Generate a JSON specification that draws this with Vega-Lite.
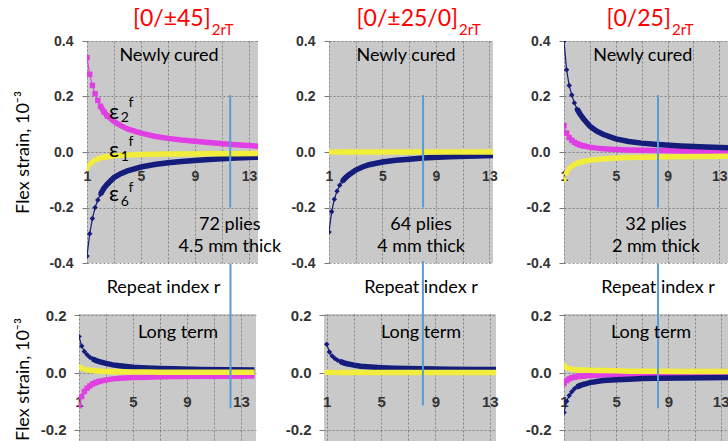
{
"$schema":"https://vega.github.io/schema/vega-lite/v6.json",
"padding":{"left":13,"top":8,"right":0,"bottom":0},
"background":"white",
"config":{
 "view":{"fill":"#c9c9c9","stroke":null},
 "axis":{"domain":false,"tickColor":"#777777","gridColor":"#555555","gridDash":[2,2],"gridOpacity":0.6,"labelFont":"Liberation Sans","labelFontWeight":"bold","labelFontSize":14,"labelColor":"#333333","titleFont":"Lato","titleFontSize":18,"titleFontWeight":"normal","titleColor":"#000000"},
 "text":{"font":"Lato"}
},
"datasets":{
"curves":[
{"p":"A","r":1,"mg":0.34,"yl":-0.06,"nv":-0.375},
{"p":"A","r":1.2,"mg":0.28,"yl":-0.045,"nv":-0.295},
{"p":"A","r":1.4,"mg":0.24,"yl":-0.036,"nv":-0.24},
{"p":"A","r":1.6,"mg":0.21,"yl":-0.03,"nv":-0.2},
{"p":"A","r":1.8,"mg":0.186,"yl":-0.025,"nv":-0.173},
{"p":"A","r":2,"mg":0.165,"yl":-0.022,"nv":-0.152},
{"p":"A","r":2.25,"mg":0.145,"yl":-0.019,"nv":-0.131},
{"p":"A","r":2.5,"mg":0.13,"yl":-0.017,"nv":-0.116},
{"p":"A","r":3,"mg":0.11,"yl":-0.014,"nv":-0.092},
{"p":"A","r":3.5,"mg":0.095,"yl":-0.012,"nv":-0.078},
{"p":"A","r":4,"mg":0.083,"yl":-0.011,"nv":-0.068},
{"p":"A","r":5,"mg":0.068,"yl":-0.009,"nv":-0.054},
{"p":"A","r":6,"mg":0.057,"yl":-0.008,"nv":-0.045},
{"p":"A","r":7,"mg":0.049,"yl":-0.007,"nv":-0.039},
{"p":"A","r":8,"mg":0.043,"yl":-0.007,"nv":-0.034},
{"p":"A","r":10,"mg":0.034,"yl":-0.006,"nv":-0.027},
{"p":"A","r":12,"mg":0.026,"yl":-0.006,"nv":-0.022},
{"p":"A","r":14,"mg":0.02,"yl":-0.005,"nv":-0.018},
{"p":"B","r":1,"yl":0,"nv":-0.288},
{"p":"B","r":1.2,"yl":0,"nv":-0.215},
{"p":"B","r":1.4,"yl":0,"nv":-0.17},
{"p":"B","r":1.6,"yl":0,"nv":-0.141},
{"p":"B","r":1.8,"yl":0,"nv":-0.12},
{"p":"B","r":2,"yl":0,"nv":-0.105},
{"p":"B","r":2.25,"yl":0,"nv":-0.092},
{"p":"B","r":2.5,"yl":0,"nv":-0.082},
{"p":"B","r":3,"yl":0,"nv":-0.065},
{"p":"B","r":3.5,"yl":0,"nv":-0.054},
{"p":"B","r":4,"yl":0,"nv":-0.046},
{"p":"B","r":5,"yl":0,"nv":-0.036},
{"p":"B","r":6,"yl":0,"nv":-0.03},
{"p":"B","r":7,"yl":0,"nv":-0.026},
{"p":"B","r":8,"yl":0,"nv":-0.022},
{"p":"B","r":10,"yl":0,"nv":-0.017},
{"p":"B","r":12,"yl":0,"nv":-0.014},
{"p":"B","r":14,"yl":0,"nv":-0.012},
{"p":"C","r":1,"mg":0.095,"yl":-0.1,"nv":0.4},
{"p":"C","r":1.2,"mg":0.068,"yl":-0.075,"nv":0.296},
{"p":"C","r":1.4,"mg":0.052,"yl":-0.06,"nv":0.24},
{"p":"C","r":1.6,"mg":0.042,"yl":-0.051,"nv":0.205},
{"p":"C","r":1.8,"mg":0.035,"yl":-0.045,"nv":0.177},
{"p":"C","r":2,"mg":0.03,"yl":-0.041,"nv":0.155},
{"p":"C","r":2.25,"mg":0.025,"yl":-0.037,"nv":0.136},
{"p":"C","r":2.5,"mg":0.022,"yl":-0.034,"nv":0.12},
{"p":"C","r":3,"mg":0.017,"yl":-0.03,"nv":0.093},
{"p":"C","r":3.5,"mg":0.014,"yl":-0.027,"nv":0.076},
{"p":"C","r":4,"mg":0.012,"yl":-0.025,"nv":0.064},
{"p":"C","r":5,"mg":0.009,"yl":-0.022,"nv":0.047},
{"p":"C","r":6,"mg":0.007,"yl":-0.02,"nv":0.038},
{"p":"C","r":7,"mg":0.006,"yl":-0.019,"nv":0.032},
{"p":"C","r":8,"mg":0.005,"yl":-0.018,"nv":0.028},
{"p":"C","r":10,"mg":0.004,"yl":-0.017,"nv":0.022},
{"p":"C","r":12,"mg":0.003,"yl":-0.016,"nv":0.018},
{"p":"C","r":14,"mg":0.003,"yl":-0.015,"nv":0.015},
{"p":"D","r":1,"mg":-0.116,"yl":0.02,"nv":0.126},
{"p":"D","r":1.2,"mg":-0.084,"yl":0.015,"nv":0.093},
{"p":"D","r":1.4,"mg":-0.066,"yl":0.012,"nv":0.074},
{"p":"D","r":1.6,"mg":-0.055,"yl":0.01,"nv":0.062},
{"p":"D","r":1.8,"mg":-0.047,"yl":0.008,"nv":0.054},
{"p":"D","r":2,"mg":-0.04,"yl":0.007,"nv":0.048},
{"p":"D","r":2.25,"mg":-0.035,"yl":0.006,"nv":0.042},
{"p":"D","r":2.5,"mg":-0.031,"yl":0.005,"nv":0.038},
{"p":"D","r":3,"mg":-0.026,"yl":0.004,"nv":0.032},
{"p":"D","r":3.5,"mg":-0.022,"yl":0.003,"nv":0.027},
{"p":"D","r":4,"mg":-0.02,"yl":0.003,"nv":0.024},
{"p":"D","r":5,"mg":-0.017,"yl":0.002,"nv":0.019},
{"p":"D","r":6,"mg":-0.016,"yl":0.002,"nv":0.016},
{"p":"D","r":7,"mg":-0.015,"yl":0.001,"nv":0.014},
{"p":"D","r":8,"mg":-0.014,"yl":0.001,"nv":0.013},
{"p":"D","r":10,"mg":-0.013,"yl":0.001,"nv":0.011},
{"p":"D","r":12,"mg":-0.013,"yl":0.001,"nv":0.01},
{"p":"D","r":14,"mg":-0.012,"yl":0.001,"nv":0.009},
{"p":"E","r":1,"yl":0,"nv":0.099},
{"p":"E","r":1.2,"yl":0,"nv":0.072},
{"p":"E","r":1.4,"yl":0,"nv":0.058},
{"p":"E","r":1.6,"yl":0,"nv":0.049},
{"p":"E","r":1.8,"yl":0,"nv":0.043},
{"p":"E","r":2,"yl":0,"nv":0.039},
{"p":"E","r":2.25,"yl":0,"nv":0.034},
{"p":"E","r":2.5,"yl":0,"nv":0.031},
{"p":"E","r":3,"yl":0,"nv":0.026},
{"p":"E","r":3.5,"yl":0,"nv":0.022},
{"p":"E","r":4,"yl":0,"nv":0.02},
{"p":"E","r":5,"yl":0,"nv":0.017},
{"p":"E","r":6,"yl":0,"nv":0.015},
{"p":"E","r":7,"yl":0,"nv":0.014},
{"p":"E","r":8,"yl":0,"nv":0.013},
{"p":"E","r":10,"yl":0,"nv":0.012},
{"p":"E","r":12,"yl":0,"nv":0.011},
{"p":"E","r":14,"yl":0,"nv":0.011},
{"p":"F","r":1,"mg":-0.038,"yl":0.025,"nv":-0.14},
{"p":"F","r":1.2,"mg":-0.028,"yl":0.018,"nv":-0.1},
{"p":"F","r":1.4,"mg":-0.022,"yl":0.014,"nv":-0.08},
{"p":"F","r":1.6,"mg":-0.018,"yl":0.012,"nv":-0.067},
{"p":"F","r":1.8,"mg":-0.016,"yl":0.011,"nv":-0.057},
{"p":"F","r":2,"mg":-0.014,"yl":0.01,"nv":-0.05},
{"p":"F","r":2.25,"mg":-0.013,"yl":0.009,"nv":-0.045},
{"p":"F","r":2.5,"mg":-0.012,"yl":0.009,"nv":-0.041},
{"p":"F","r":3,"mg":-0.01,"yl":0.008,"nv":-0.035},
{"p":"F","r":3.5,"mg":-0.009,"yl":0.007,"nv":-0.031},
{"p":"F","r":4,"mg":-0.008,"yl":0.007,"nv":-0.028},
{"p":"F","r":5,"mg":-0.007,"yl":0.006,"nv":-0.025},
{"p":"F","r":6,"mg":-0.006,"yl":0.005,"nv":-0.023},
{"p":"F","r":7,"mg":-0.006,"yl":0.005,"nv":-0.021},
{"p":"F","r":8,"mg":-0.005,"yl":0.005,"nv":-0.02},
{"p":"F","r":10,"mg":-0.005,"yl":0.004,"nv":-0.019},
{"p":"F","r":12,"mg":-0.005,"yl":0.004,"nv":-0.018},
{"p":"F","r":14,"mg":-0.004,"yl":0.004,"nv":-0.017}
],
"rules":[
{"p":"A","r":11.61,"v":0.205,"v2":-0.2},
{"p":"B","r":8.04,"v":0.205,"v2":-0.2},
{"p":"C","r":8.26,"v":0.205,"v2":-0.2},
{"p":"D","r":12.23,"v":0.382,"v2":-0.125},
{"p":"E","r":8.08,"v":0.39,"v2":-0.115},
{"p":"F","r":8.2,"v":0.382,"v2":-0.125}
],
"notes":[
{"p":"A","k":"ttl","t":"[0/±45]","r":10.17,"v":0.479},
{"p":"A","k":"sub","t":"2rT","r":10.25,"v":0.44},
{"p":"A","k":"note","t":"Newly cured","r":7.07,"v":0.346},
{"p":"A","k":"note","t":"72 plies","r":11.58,"v":-0.263},
{"p":"A","k":"note","t":"4.5 mm thick","r":11.58,"v":-0.342},
{"p":"A","k":"eps","t":"ε","r":3.0,"v":0.144},
{"p":"A","k":"es","t":"2","r":3.81,"v":0.123},
{"p":"A","k":"es","t":"f","r":4.25,"v":0.177},
{"p":"A","k":"eps","t":"ε","r":3.0,"v":0.007},
{"p":"A","k":"es","t":"1","r":3.81,"v":-0.018},
{"p":"A","k":"es","t":"f","r":4.25,"v":0.036},
{"p":"A","k":"eps","t":"ε","r":3.0,"v":-0.151},
{"p":"A","k":"es","t":"6","r":3.81,"v":-0.18},
{"p":"A","k":"es","t":"f","r":4.25,"v":-0.13},
{"p":"B","k":"ttl","t":"[0/±25/0]","r":10.66,"v":0.479},
{"p":"B","k":"sub","t":"2rT","r":10.73,"v":0.44},
{"p":"B","k":"note","t":"Newly cured","r":6.76,"v":0.346},
{"p":"B","k":"note","t":"64 plies","r":7.89,"v":-0.263},
{"p":"B","k":"note","t":"4 mm thick","r":7.89,"v":-0.342},
{"p":"C","k":"ttl","t":"[0/25]","r":9.26,"v":0.479},
{"p":"C","k":"sub","t":"2rT","r":9.34,"v":0.44},
{"p":"C","k":"note","t":"Newly cured","r":7.08,"v":0.346},
{"p":"C","k":"note","t":"32 plies","r":8.1,"v":-0.263},
{"p":"C","k":"note","t":"2 mm thick","r":8.1,"v":-0.342},
{"p":"D","k":"note","t":"Repeat index r","r":7.26,"v":0.295},
{"p":"D","k":"note","t":"Long term","r":8.34,"v":0.138},
{"p":"E","k":"note","t":"Repeat index r","r":7.94,"v":0.295},
{"p":"E","k":"note","t":"Long term","r":7.94,"v":0.138},
{"p":"F","k":"note","t":"Repeat index r","r":8.2,"v":0.295},
{"p":"F","k":"note","t":"Long term","r":7.66,"v":0.138}
]
},
"vconcat":[
{"bounds":"flush","spacing":71,"hconcat":[
  {"width":171,"height":222,
   "encoding":{
    "x":{"field":"r","type":"quantitative","scale":{"domain":[1,13.67],"nice":false,"zero":false},"axis":{"values":[1,3,5,7,9,11,13],"labelExpr":"datum.value % 4 == 1 ? datum.label : ''","offset":-111,"labelPadding":17,"ticks":false,"tickSize":0,"title":null,"grid":true,"labelFlush":false,"labelOverlap":false}},
    "y":{"field":"v","type":"quantitative","scale":{"domain":[-0.4,0.4],"nice":false,"zero":false},"axis":{"values":[-0.4,-0.2,0,0.2,0.4],"labelExpr":"datum.value < 0 ? '-' + format(-datum.value, '.1f') : format(datum.value, '.1f')","title":"Flex strain, 10⁻³","titleX":-55,"tickSize":5,"labelPadding":9,"grid":true}}
   },
   "layer":[
    {"data":{"name":"curves"},"transform":[{"filter":"datum.p=='A'"},{"fold":["mg","nv","yl"],"as":["s","v"]},{"filter":"isValid(datum.v)"}],"mark":{"type":"line","strokeWidth":1.2,"clip":true},"encoding":{"color":{"field":"s","type":"nominal","scale":{"domain":["mg","nv","yl"],"range":["#e03fe3","#141c7c","#f2ec3a"]},"legend":null}}},
    {"data":{"name":"curves"},"transform":[{"filter":"datum.p=='A' && datum.r >= 2"},{"fold":["mg","nv","yl"],"as":["s","v"]},{"filter":"isValid(datum.v)"}],"mark":{"type":"line","strokeWidth":5.5,"strokeCap":"butt","clip":true},"encoding":{"color":{"field":"s","type":"nominal","legend":null}}},
    {"data":{"name":"curves"},"transform":[{"filter":"datum.p=='A' && datum.r <= 2.5"},{"fold":["mg","nv","yl"],"as":["s","v"]},{"filter":"isValid(datum.v)"}],"mark":{"type":"point","filled":true,"opacity":1,"size":30,"clip":true},"encoding":{"color":{"field":"s","type":"nominal","legend":null},"shape":{"field":"s","type":"nominal","scale":{"domain":["mg","nv","yl"],"range":["square","diamond","circle"]},"legend":null}}},
    {"data":{"name":"rules"},"transform":[{"filter":"datum.p=='A'"}],"mark":{"type":"rule","color":"#5b9bd5","strokeWidth":2},"encoding":{"y2":{"field":"v2"}}},
    {"data":{"name":"notes"},"transform":[{"filter":"datum.p=='A' && datum.k=='ttl'"}],"mark":{"type":"text","fontSize":23,"color":"#ff0000","align":"right","baseline":"middle"},"encoding":{"text":{"field":"t"}}},
    {"data":{"name":"notes"},"transform":[{"filter":"datum.p=='A' && datum.k=='sub'"}],"mark":{"type":"text","fontSize":15,"color":"#ff0000","align":"left","baseline":"middle"},"encoding":{"text":{"field":"t"}}},
    {"data":{"name":"notes"},"transform":[{"filter":"datum.p=='A' && datum.k=='note'"}],"mark":{"type":"text","fontSize":18,"color":"#000000","baseline":"middle"},"encoding":{"text":{"field":"t"}}},
    {"data":{"name":"notes"},"transform":[{"filter":"datum.p=='A' && datum.k=='eps'"}],"mark":{"type":"text","fontSize":22,"color":"#000000","baseline":"middle"},"encoding":{"text":{"field":"t"}}},
    {"data":{"name":"notes"},"transform":[{"filter":"datum.p=='A' && datum.k=='es'"}],"mark":{"type":"text","fontSize":14,"color":"#000000","baseline":"middle"},"encoding":{"text":{"field":"t"}}}
   ]},
  {"width":164,"height":222,
   "encoding":{
    "x":{"field":"r","type":"quantitative","scale":{"domain":[1,13.27],"nice":false,"zero":false},"axis":{"values":[1,3,5,7,9,11,13],"labelExpr":"datum.value % 4 == 1 ? datum.label : ''","offset":-111,"labelPadding":17,"ticks":false,"tickSize":0,"title":null,"grid":true,"labelFlush":false,"labelOverlap":false}},
    "y":{"field":"v","type":"quantitative","scale":{"domain":[-0.4,0.4],"nice":false,"zero":false},"axis":{"values":[-0.4,-0.2,0,0.2,0.4],"labelExpr":"datum.value < 0 ? '-' + format(-datum.value, '.1f') : format(datum.value, '.1f')","title":null,"tickSize":5,"labelPadding":9,"grid":true}}
   },
   "layer":[
    {"data":{"name":"curves"},"transform":[{"filter":"datum.p=='B'"},{"fold":["mg","nv","yl"],"as":["s","v"]},{"filter":"isValid(datum.v)"}],"mark":{"type":"line","strokeWidth":1.2,"clip":true},"encoding":{"color":{"field":"s","type":"nominal","scale":{"domain":["mg","nv","yl"],"range":["#e03fe3","#141c7c","#f2ec3a"]},"legend":null}}},
    {"data":{"name":"curves"},"transform":[{"filter":"datum.p=='B' && datum.r >= 2"},{"fold":["mg","nv","yl"],"as":["s","v"]},{"filter":"isValid(datum.v)"}],"mark":{"type":"line","strokeWidth":5.5,"strokeCap":"butt","clip":true},"encoding":{"color":{"field":"s","type":"nominal","legend":null}}},
    {"data":{"name":"curves"},"transform":[{"filter":"datum.p=='B' && datum.r <= 2.5"},{"fold":["mg","nv","yl"],"as":["s","v"]},{"filter":"isValid(datum.v)"}],"mark":{"type":"point","filled":true,"opacity":1,"size":30,"clip":true},"encoding":{"color":{"field":"s","type":"nominal","legend":null},"shape":{"field":"s","type":"nominal","scale":{"domain":["mg","nv","yl"],"range":["square","diamond","circle"]},"legend":null}}},
    {"data":{"name":"rules"},"transform":[{"filter":"datum.p=='B'"}],"mark":{"type":"rule","color":"#5b9bd5","strokeWidth":2},"encoding":{"y2":{"field":"v2"}}},
    {"data":{"name":"notes"},"transform":[{"filter":"datum.p=='B' && datum.k=='ttl'"}],"mark":{"type":"text","fontSize":23,"color":"#ff0000","align":"right","baseline":"middle"},"encoding":{"text":{"field":"t"}}},
    {"data":{"name":"notes"},"transform":[{"filter":"datum.p=='B' && datum.k=='sub'"}],"mark":{"type":"text","fontSize":15,"color":"#ff0000","align":"left","baseline":"middle"},"encoding":{"text":{"field":"t"}}},
    {"data":{"name":"notes"},"transform":[{"filter":"datum.p=='B' && datum.k=='note'"}],"mark":{"type":"text","fontSize":18,"color":"#000000","baseline":"middle"},"encoding":{"text":{"field":"t"}}}
   ]},
 {"width":167,"height":222,
   "encoding":{
    "x":{"field":"r","type":"quantitative","scale":{"domain":[1,13.9],"nice":false,"zero":false},"axis":{"values":[1,3,5,7,9,11,13],"labelExpr":"datum.value % 4 == 1 ? datum.label : ''","offset":-111,"labelPadding":17,"ticks":false,"tickSize":0,"title":null,"grid":true,"labelFlush":false,"labelOverlap":false}},
    "y":{"field":"v","type":"quantitative","scale":{"domain":[-0.4,0.4],"nice":false,"zero":false},"axis":{"values":[-0.4,-0.2,0,0.2,0.4],"labelExpr":"datum.value < 0 ? '-' + format(-datum.value, '.1f') : format(datum.value, '.1f')","title":null,"tickSize":5,"labelPadding":9,"grid":true}}
   },
   "layer":[
    {"data":{"name":"curves"},"transform":[{"filter":"datum.p=='C'"},{"fold":["mg","nv","yl"],"as":["s","v"]},{"filter":"isValid(datum.v)"}],"mark":{"type":"line","strokeWidth":1.2,"clip":true},"encoding":{"color":{"field":"s","type":"nominal","scale":{"domain":["mg","nv","yl"],"range":["#e03fe3","#141c7c","#f2ec3a"]},"legend":null}}},
    {"data":{"name":"curves"},"transform":[{"filter":"datum.p=='C' && datum.r >= 2"},{"fold":["mg","nv","yl"],"as":["s","v"]},{"filter":"isValid(datum.v)"}],"mark":{"type":"line","strokeWidth":5.5,"strokeCap":"butt","clip":true},"encoding":{"color":{"field":"s","type":"nominal","legend":null}}},
    {"data":{"name":"curves"},"transform":[{"filter":"datum.p=='C' && datum.r <= 2.5"},{"fold":["mg","nv","yl"],"as":["s","v"]},{"filter":"isValid(datum.v)"}],"mark":{"type":"point","filled":true,"opacity":1,"size":30,"clip":true},"encoding":{"color":{"field":"s","type":"nominal","legend":null},"shape":{"field":"s","type":"nominal","scale":{"domain":["mg","nv","yl"],"range":["square","diamond","circle"]},"legend":null}}},
    {"data":{"name":"rules"},"transform":[{"filter":"datum.p=='C'"}],"mark":{"type":"rule","color":"#5b9bd5","strokeWidth":2},"encoding":{"y2":{"field":"v2"}}},
    {"data":{"name":"notes"},"transform":[{"filter":"datum.p=='C' && datum.k=='ttl'"}],"mark":{"type":"text","fontSize":23,"color":"#ff0000","align":"right","baseline":"middle"},"encoding":{"text":{"field":"t"}}},
    {"data":{"name":"notes"},"transform":[{"filter":"datum.p=='C' && datum.k=='sub'"}],"mark":{"type":"text","fontSize":15,"color":"#ff0000","align":"left","baseline":"middle"},"encoding":{"text":{"field":"t"}}},
    {"data":{"name":"notes"},"transform":[{"filter":"datum.p=='C' && datum.k=='note'"}],"mark":{"type":"text","fontSize":18,"color":"#000000","baseline":"middle"},"encoding":{"text":{"field":"t"}}}
   ]}
]},
{"bounds":"flush","spacing":68,"hconcat":[
  {"width":177,"height":130,
   "encoding":{
    "x":{"field":"r","type":"quantitative","scale":{"domain":[1,14.12],"nice":false,"zero":false},"axis":{"values":[1,3,5,7,9,11,13],"labelExpr":"datum.value % 4 == 1 ? datum.label : ''","offset":-71.4,"labelPadding":22,"ticks":false,"tickSize":0,"title":null,"grid":true,"labelFlush":false,"labelOverlap":false,"labelFontSize":15}},
    "y":{"field":"v","type":"quantitative","scale":{"domain":[-0.25,0.205],"nice":false,"zero":false},"axis":{"values":[-0.2,0,0.2],"labelExpr":"datum.value < 0 ? '-' + format(-datum.value, '.1f') : format(datum.value, '.1f')","title":"Flex strain, 10⁻³","titleX":-47,"tickSize":5,"labelPadding":8,"grid":true,"labelFontSize":15}}
   },
   "layer":[
    {"data":{"name":"curves"},"transform":[{"filter":"datum.p=='D'"},{"fold":["mg","nv","yl"],"as":["s","v"]},{"filter":"isValid(datum.v)"}],"mark":{"type":"line","strokeWidth":1.2,"clip":true},"encoding":{"color":{"field":"s","type":"nominal","scale":{"domain":["mg","nv","yl"],"range":["#e03fe3","#141c7c","#f2ec3a"]},"legend":null}}},
    {"data":{"name":"curves"},"transform":[{"filter":"datum.p=='D' && datum.r >= 2"},{"fold":["mg","nv","yl"],"as":["s","v"]},{"filter":"isValid(datum.v)"}],"mark":{"type":"line","strokeWidth":5.5,"strokeCap":"butt","clip":true},"encoding":{"color":{"field":"s","type":"nominal","legend":null}}},
    {"data":{"name":"curves"},"transform":[{"filter":"datum.p=='D' && datum.r <= 2.5"},{"fold":["mg","nv","yl"],"as":["s","v"]},{"filter":"isValid(datum.v)"}],"mark":{"type":"point","filled":true,"opacity":1,"size":30,"clip":true},"encoding":{"color":{"field":"s","type":"nominal","legend":null},"shape":{"field":"s","type":"nominal","scale":{"domain":["mg","nv","yl"],"range":["square","diamond","circle"]},"legend":null}}},
    {"data":{"name":"rules"},"transform":[{"filter":"datum.p=='D'"}],"mark":{"type":"rule","color":"#5b9bd5","strokeWidth":2},"encoding":{"y2":{"field":"v2"}}},
    {"data":{"name":"notes"},"transform":[{"filter":"datum.p=='D' && datum.k=='note'"}],"mark":{"type":"text","fontSize":18,"color":"#000000","baseline":"middle"},"encoding":{"text":{"field":"t"}}}
   ]},
  {"width":172,"height":130,
   "encoding":{
    "x":{"field":"r","type":"quantitative","scale":{"domain":[0.8,13.46],"nice":false,"zero":false},"axis":{"values":[1,3,5,7,9,11,13],"labelExpr":"datum.value % 4 == 1 ? datum.label : ''","offset":-71.4,"labelPadding":22,"ticks":false,"tickSize":0,"title":null,"grid":true,"labelFlush":false,"labelOverlap":false,"labelFontSize":15}},
    "y":{"field":"v","type":"quantitative","scale":{"domain":[-0.25,0.205],"nice":false,"zero":false},"axis":{"values":[-0.2,0,0.2],"labelExpr":"datum.value < 0 ? '-' + format(-datum.value, '.1f') : format(datum.value, '.1f')","title":null,"tickSize":5,"labelPadding":8,"grid":true,"labelFontSize":15}}
   },
   "layer":[
    {"data":{"name":"curves"},"transform":[{"filter":"datum.p=='E'"},{"fold":["mg","nv","yl"],"as":["s","v"]},{"filter":"isValid(datum.v)"}],"mark":{"type":"line","strokeWidth":1.2,"clip":true},"encoding":{"color":{"field":"s","type":"nominal","scale":{"domain":["mg","nv","yl"],"range":["#e03fe3","#141c7c","#f2ec3a"]},"legend":null}}},
    {"data":{"name":"curves"},"transform":[{"filter":"datum.p=='E' && datum.r >= 2"},{"fold":["mg","nv","yl"],"as":["s","v"]},{"filter":"isValid(datum.v)"}],"mark":{"type":"line","strokeWidth":5.5,"strokeCap":"butt","clip":true},"encoding":{"color":{"field":"s","type":"nominal","legend":null}}},
    {"data":{"name":"curves"},"transform":[{"filter":"datum.p=='E' && datum.r <= 2.5"},{"fold":["mg","nv","yl"],"as":["s","v"]},{"filter":"isValid(datum.v)"}],"mark":{"type":"point","filled":true,"opacity":1,"size":30,"clip":true},"encoding":{"color":{"field":"s","type":"nominal","legend":null},"shape":{"field":"s","type":"nominal","scale":{"domain":["mg","nv","yl"],"range":["square","diamond","circle"]},"legend":null}}},
    {"data":{"name":"rules"},"transform":[{"filter":"datum.p=='E'"}],"mark":{"type":"rule","color":"#5b9bd5","strokeWidth":2},"encoding":{"y2":{"field":"v2"}}},
    {"data":{"name":"notes"},"transform":[{"filter":"datum.p=='E' && datum.k=='note'"}],"mark":{"type":"text","fontSize":18,"color":"#000000","baseline":"middle"},"encoding":{"text":{"field":"t"}}}
   ]},
 {"width":175,"height":130,
   "encoding":{
    "x":{"field":"r","type":"quantitative","scale":{"domain":[1,14.4],"nice":false,"zero":false},"axis":{"values":[1,3,5,7,9,11,13],"labelExpr":"datum.value % 4 == 1 ? datum.label : ''","offset":-71.4,"labelPadding":22,"ticks":false,"tickSize":0,"title":null,"grid":true,"labelFlush":false,"labelOverlap":false,"labelFontSize":15}},
    "y":{"field":"v","type":"quantitative","scale":{"domain":[-0.25,0.205],"nice":false,"zero":false},"axis":{"values":[-0.2,0,0.2],"labelExpr":"datum.value < 0 ? '-' + format(-datum.value, '.1f') : format(datum.value, '.1f')","title":null,"tickSize":5,"labelPadding":8,"grid":true,"labelFontSize":15}}
   },
   "layer":[
    {"data":{"name":"curves"},"transform":[{"filter":"datum.p=='F'"},{"fold":["mg","nv","yl"],"as":["s","v"]},{"filter":"isValid(datum.v)"}],"mark":{"type":"line","strokeWidth":1.2,"clip":true},"encoding":{"color":{"field":"s","type":"nominal","scale":{"domain":["mg","nv","yl"],"range":["#e03fe3","#141c7c","#f2ec3a"]},"legend":null}}},
    {"data":{"name":"curves"},"transform":[{"filter":"datum.p=='F' && datum.r >= 2"},{"fold":["mg","nv","yl"],"as":["s","v"]},{"filter":"isValid(datum.v)"}],"mark":{"type":"line","strokeWidth":5.5,"strokeCap":"butt","clip":true},"encoding":{"color":{"field":"s","type":"nominal","legend":null}}},
    {"data":{"name":"curves"},"transform":[{"filter":"datum.p=='F' && datum.r <= 2.5"},{"fold":["mg","nv","yl"],"as":["s","v"]},{"filter":"isValid(datum.v)"}],"mark":{"type":"point","filled":true,"opacity":1,"size":30,"clip":true},"encoding":{"color":{"field":"s","type":"nominal","legend":null},"shape":{"field":"s","type":"nominal","scale":{"domain":["mg","nv","yl"],"range":["square","diamond","circle"]},"legend":null}}},
    {"data":{"name":"rules"},"transform":[{"filter":"datum.p=='F'"}],"mark":{"type":"rule","color":"#5b9bd5","strokeWidth":2},"encoding":{"y2":{"field":"v2"}}},
    {"data":{"name":"notes"},"transform":[{"filter":"datum.p=='F' && datum.k=='note'"}],"mark":{"type":"text","fontSize":18,"color":"#000000","baseline":"middle"},"encoding":{"text":{"field":"t"}}}
   ]}
]}
],
"spacing":-10,"center":true
}
